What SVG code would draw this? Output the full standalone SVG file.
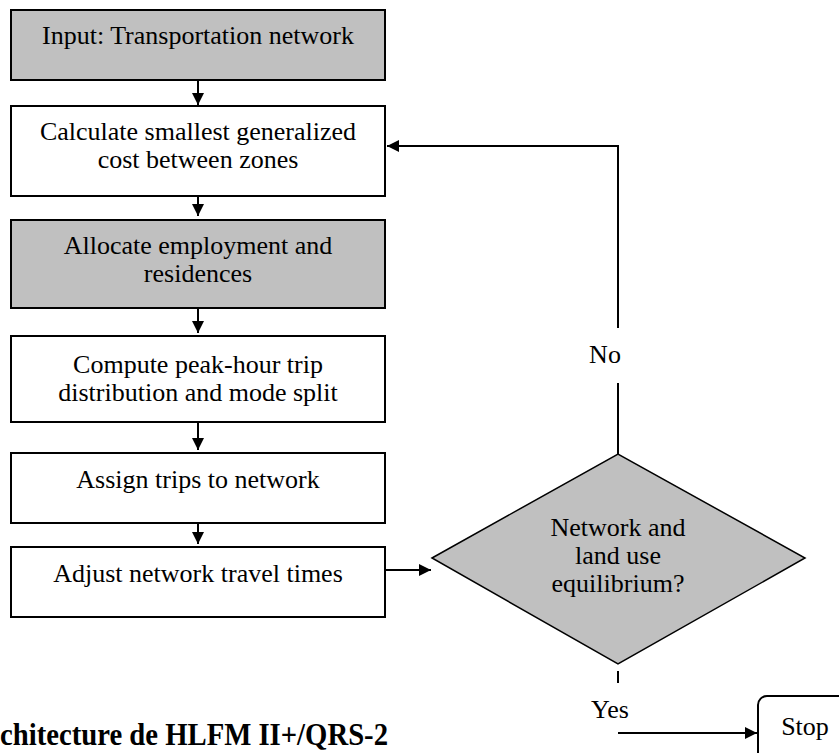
<svg xmlns="http://www.w3.org/2000/svg" width="839" height="753" viewBox="0 0 839 753">
<defs>
<style>
.box{stroke:#000;stroke-width:2;}
.w{fill:#fff;}
.g{fill:#c0c0c0;}
.t{font-family:"Liberation Serif","Times New Roman",serif;font-size:26px;fill:#000;text-anchor:middle;}
.c{stroke:#000;stroke-width:2;fill:none;}
</style>
<marker id="ah" markerWidth="12" markerHeight="12" viewBox="0 0 12 12" refX="12" refY="6" orient="auto" markerUnits="userSpaceOnUse">
<path d="M0,0 L12,6 L0,12 Z" fill="#000"/>
</marker>
</defs>
<rect width="839" height="753" fill="#fff"/>
<g id="n1"><rect class="box g" x="11" y="10" width="374" height="70"/><text class="t" x="198" y="44">Input: Transportation network</text></g>
<g id="n2"><rect class="box w" x="11" y="106" width="374" height="90"/><text class="t" x="198" y="140">Calculate smallest generalized</text><text class="t" x="198" y="168">cost between zones</text></g>
<g id="n3"><rect class="box g" x="11" y="220" width="374" height="88"/><text class="t" x="198" y="254">Allocate employment and</text><text class="t" x="198" y="282">residences</text></g>
<g id="n4"><rect class="box w" x="11" y="336" width="374" height="86"/><text class="t" x="198" y="373">Compute peak-hour trip</text><text class="t" x="198" y="401">distribution and mode split</text></g>
<g id="n5"><rect class="box w" x="11" y="453" width="374" height="70"/><text class="t" x="198" y="488">Assign trips to network</text></g>
<g id="n6"><rect class="box w" x="11" y="547" width="374" height="70"/><text class="t" x="198" y="582">Adjust network travel times</text></g>
<g id="n7"><polygon points="432,558 618,454 805,558 618,664" fill="#c0c0c0" stroke="#000" stroke-width="1.5"/><text class="t" x="618" y="536">Network and</text><text class="t" x="618" y="564">land use</text><text class="t" x="618" y="592">equilibrium?</text></g>
<g id="n8"><rect x="758" y="696" width="110" height="90" rx="9" fill="#fff" stroke="#000" stroke-width="2"/><text class="t" x="805" y="735">Stop</text></g>
<g id="connectors">
<line class="c" x1="198" y1="81" x2="198" y2="105" marker-end="url(#ah)"/>
<line class="c" x1="198" y1="197" x2="198" y2="216" marker-end="url(#ah)"/>
<line class="c" x1="198" y1="309" x2="198" y2="333" marker-end="url(#ah)"/>
<line class="c" x1="198" y1="423" x2="198" y2="450" marker-end="url(#ah)"/>
<line class="c" x1="198" y1="524" x2="198" y2="544" marker-end="url(#ah)"/>
<line class="c" x1="386" y1="570" x2="431" y2="570" marker-end="url(#ah)"/>
<line class="c" x1="618" y1="454" x2="618" y2="383"/>
<polyline class="c" points="618,328 618,146 387,146" marker-end="url(#ah)"/>
<text class="t" x="605" y="363">No</text>
<line class="c" x1="618" y1="671" x2="618" y2="683"/>
<text class="t" x="610" y="718">Yes</text>
<line class="c" x1="618" y1="733" x2="757" y2="733" marker-end="url(#ah)"/>
</g>
<text x="0" y="745" textLength="388" lengthAdjust="spacingAndGlyphs" style="font-family:'Liberation Serif','Times New Roman',serif;font-size:31px;font-weight:bold;fill:#000;">chitecture de HLFM II+/QRS-2</text>
</svg>
